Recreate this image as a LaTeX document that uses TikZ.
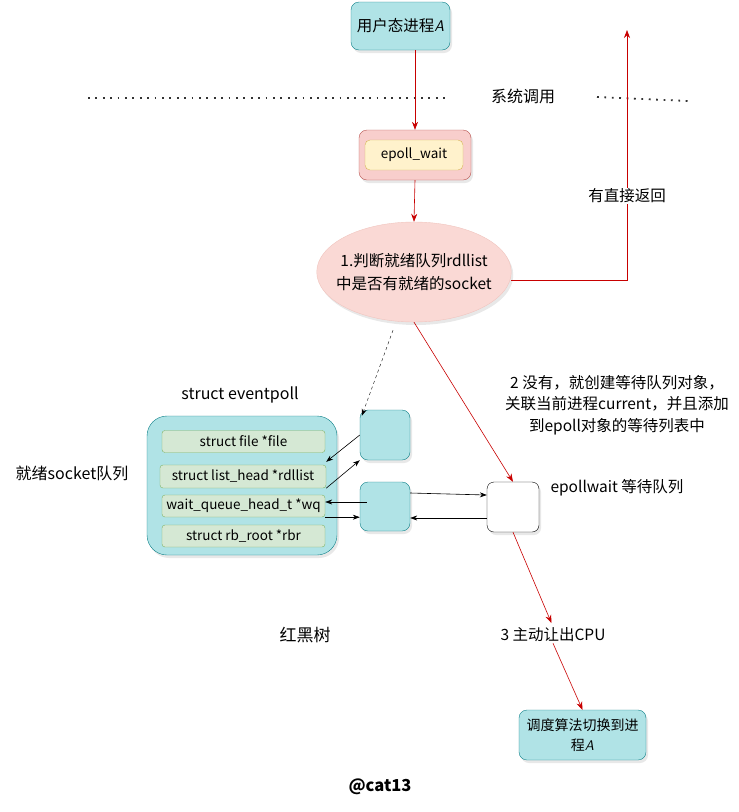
\documentclass[tikz,border=0pt]{standalone}
\usepackage{fontspec}
\setmainfont{Noto Sans CJK SC}
\usepackage{tikz}
\usetikzlibrary{arrows.meta, positioning, calc, shadows, shapes.geometric}
\definecolor{tealFill}{HTML}{B0E3E6}
\definecolor{tealEdge}{HTML}{0E8088}
\definecolor{redFill}{HTML}{F8CECC}
\definecolor{redEdge}{HTML}{B85450}
\definecolor{yelFill}{HTML}{FFF2CC}
\definecolor{yelEdge}{HTML}{D6B656}
\definecolor{grnFill}{HTML}{D5E8D4}
\definecolor{grnEdge}{HTML}{82B366}
\definecolor{ellFill}{HTML}{FAD9D5}
\definecolor{ellEdge}{HTML}{F0C4BE}
\definecolor{arrRed}{HTML}{C80000}

\begin{document}
\begin{tikzpicture}[
      x=1pt, y=-1pt,
      shdw/.style={drop shadow={shadow xshift=2pt, shadow yshift=-3pt, opacity=0.18}},
      box/.style={rectangle, draw=tealEdge, fill=tealFill, rounded corners=8pt, inner sep=0pt, align=center, font=\fontsize{14}{20}\selectfont, shdw},
      field/.style={rectangle, draw=grnEdge, fill=grnFill, rounded corners=3pt, inner sep=0pt, minimum width=163pt, minimum height=22pt, font=\fontsize{13.5}{16}\selectfont},
      lbl/.style={font=\fontsize{15.5}{21.5}\selectfont, align=center, inner sep=1pt},
      redarrow/.style={-{Stealth[length=8pt, width=6pt]}, draw=arrRed, semithick},
      blkarrow/.style={-{Stealth[length=7pt, width=5pt]}, black, semithick},
      dots/.style={line width=1.8pt, dash pattern=on 1.8pt off 5.6pt, black!80}
  ]
      \useasboundingbox (0,0) rectangle (739,812);
      % top: user process and syscall border
      \node[box, minimum width=99pt, minimum height=48pt, font=\fontsize{15.5}{20}\selectfont] (procA) at (400.5,26) {用户态进程\textsf{\textit{A}}};
      \coordinate (dotL1) at (88,98);
      \coordinate (dotL2) at (450,98);
      \coordinate (dotR1) at (597,97);
      \coordinate (dotR2) at (688,101);
      \draw[dots] (dotL1) -- (dotL2);
      \draw[dots] (dotR1) -- (dotR2);
      \node[lbl, font=\fontsize{16}{20}\selectfont] (syscall) at (523,96) {系统调用};
      \node[rectangle, draw=redEdge, fill=redFill, rounded corners=8pt, minimum width=112pt, minimum height=50pt, shdw] (epw) at (415,155) {};
      \node[rectangle, draw=yelEdge, fill=yelFill, rounded corners=5pt, minimum width=98pt, minimum height=30pt, font=\fontsize{13.5}{15}\selectfont] (epwin) at (414,155) {epoll\_wait};
      \node[ellipse, draw=ellEdge, fill=ellFill, minimum width=188pt, minimum height=100pt, inner xsep=-9pt, inner ysep=0pt, align=center, font=\fontsize{15.5}{23}\selectfont, shdw] (chk) at (414,272) {1.判断就绪队列rdllist\\中是否有就绪的socket};
      \coordinate (retTop) at (627,30);
      % eventpoll structure
      \node[lbl, font=\fontsize{16}{18}\selectfont] (evptitle) at (240,395) {struct eventpoll};
      \node[box, rounded corners=20pt, minimum width=190pt, minimum height=139pt] (evp) at (242,485.5) {};
      \node[field] (ffile) at (243.5,441.5) {struct file *file};
      \node[field, minimum width=166pt, minimum height=23pt] (frdl) at (243,476.5) {struct list\_head *rdllist};
      \node[field] (fwq) at (243.5,506) {wait\_queue\_head\_t *wq};
      \node[field] (frbr) at (243.5,536) {struct rb\_root *rbr};
      \node[box, minimum width=50pt, minimum height=50pt] (rdnode) at (385,435) {};
      \node[box, minimum width=50pt, minimum height=49pt] (wqnode) at (385,506.5) {};
      \node[rectangle, draw=black, fill=white, rounded corners=7pt, minimum width=52pt, minimum height=50pt, shdw] (waitnode) at (513,507) {};
      \node[lbl, font=\fontsize{16}{20}\selectfont] (rdqlbl) at (72,473) {就绪socket队列};
      \node[lbl, font=\fontsize{17}{20}\selectfont] (rbtlbl) at (305,635) {红黑树};
      \node[lbl] (step2) at (617,405) {2 没有，就创建等待队列对象，\\关联当前进程current，并且添加\\到epoll对象的等待列表中};
      \node[lbl] (wqlbl) at (617,488) {epollwait 等待队列};
      \node[lbl] (cpu) at (553,635) {3 主动让出CPU};
      \node[box, minimum width=127pt, minimum height=50pt] (sched) at (582.5,735) {调度算法切换到进\\程\textsf{\textit{A}}};
      \node[lbl, font=\fontsize{16.5}{18}\selectfont\bfseries] (author) at (380,787) {@cat13};
      % connectors
      \draw[redarrow] ([xshift=14.5pt]procA.south) -- (epw.north);
      \draw[redarrow] (epw.south) -- (chk.north);
      \draw[redarrow] ([yshift=-8pt]chk.east) -| (retTop);
      \node[lbl, fill=white] (retlbl) at (627,196) {有直接返回};
      \draw[-{Stealth[length=7pt, width=5pt]}, dashed, black] ([xshift=-21pt, yshift=-8pt]chk.south) -- ([xshift=2pt, yshift=-6pt]rdnode.north west);
      \draw[redarrow] (chk.south) -- (waitnode.north);
      \draw[blkarrow] (rdnode.west) -- ([yshift=3pt]frdl.north east);
      \draw[blkarrow] (frdl.south east) -- (rdnode.south west);
      \draw[blkarrow] ([xshift=7pt, yshift=4.5pt]wqnode.west) -- ([yshift=4pt]fwq.east);
      \draw[blkarrow] (fwq.south east) -- (fwq.south east -| wqnode.west);
      \draw[blkarrow] ([yshift=13.5pt]wqnode.east) -- ([yshift=12pt]waitnode.west);
      \draw[blkarrow] ([yshift=-11pt]waitnode.west) -- ([yshift=-11.5pt]wqnode.east);
      \draw[redarrow, shorten >=4pt] (waitnode.south) -- (cpu.north);
      \draw[redarrow] (cpu.south) -- (sched.north);
  \end{tikzpicture}
\end{document}
